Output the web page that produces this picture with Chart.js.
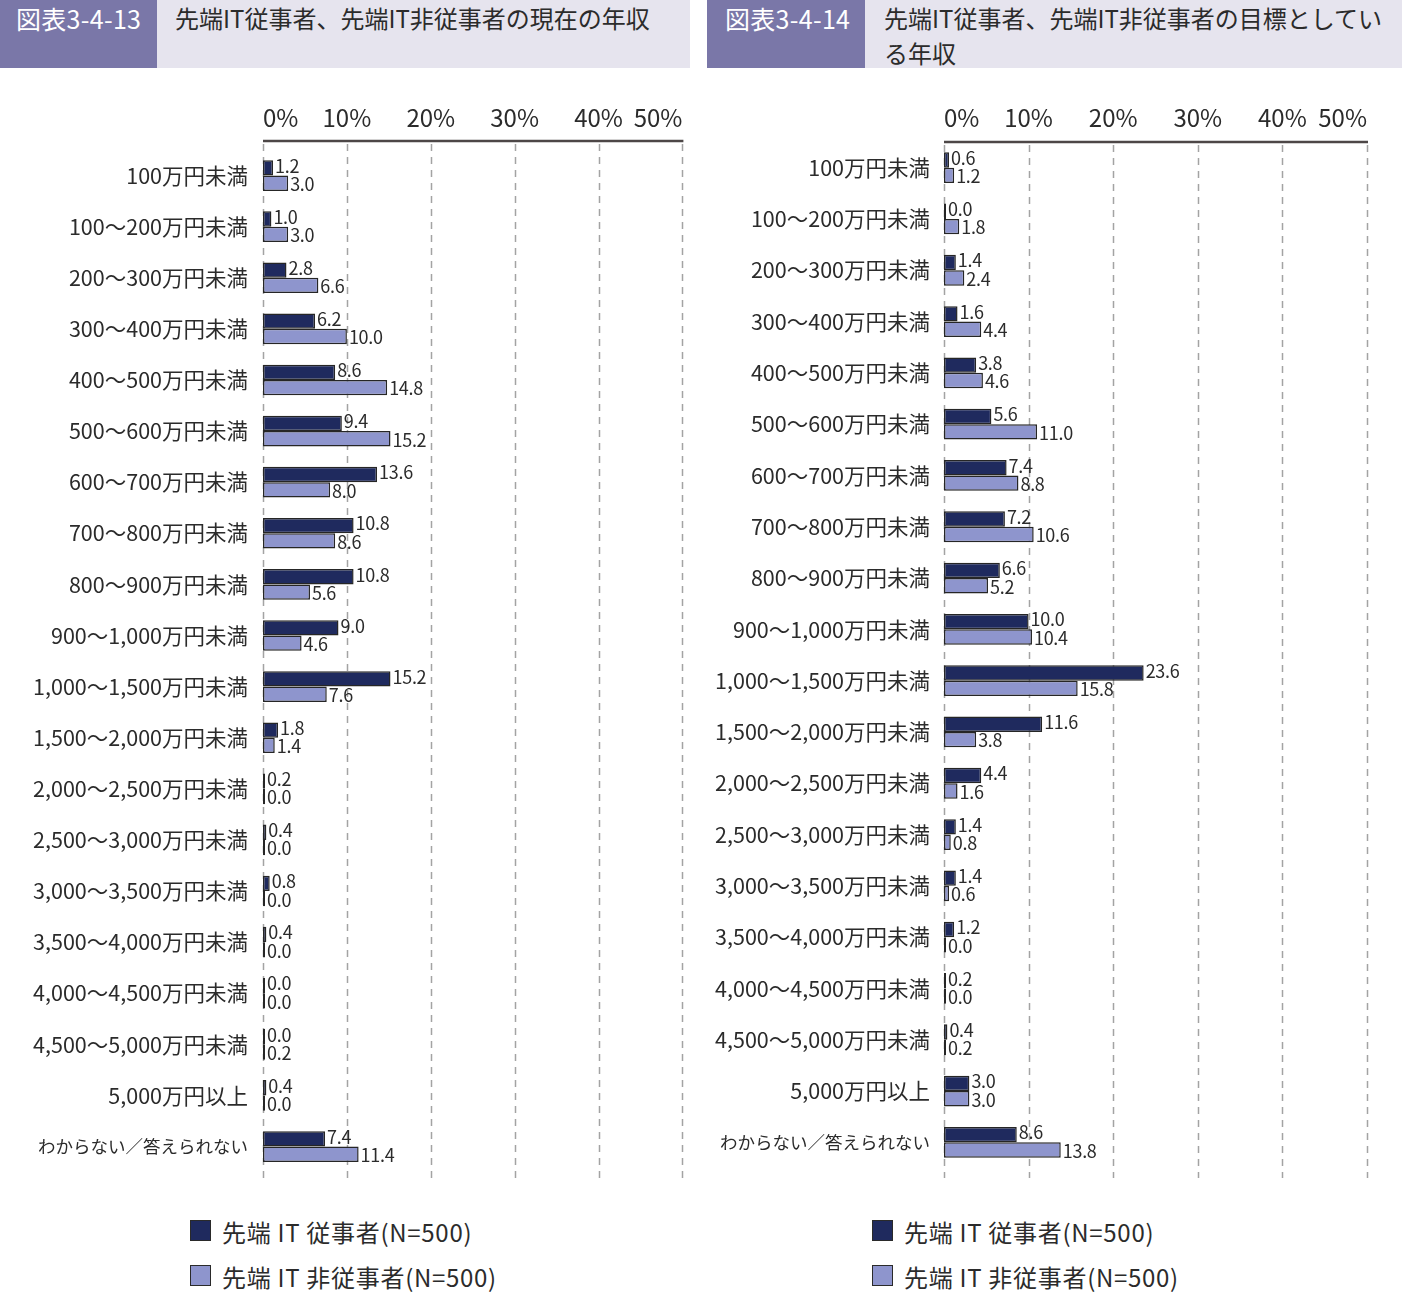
<!DOCTYPE html>
<html lang="ja">
<head>
<meta charset="utf-8">
<script src="https://cdn.jsdelivr.net/npm/chart.js@4.4.1/dist/chart.umd.min.js"></script>
<style>
  body { margin: 0; background: #fff; font-family: 'Noto Sans CJK JP', 'Noto Sans', sans-serif; color: #333; }
  #page { position: relative; width: 1408px; height: 1293px; overflow: hidden; }
  .hdr { position: absolute; top: 0; height: 68px; background: #e6e4ee; }
  .hdr .num { position: absolute; left: 0; top: 0; height: 68px; background: #7a77a8; color: #fff; font-size: 25px; line-height: 36px; padding-left: 16px; box-sizing: border-box; letter-spacing: 0.3px; }
  .hdr .ttl { position: absolute; top: 0; font-size: 24px; line-height: 35px; color: #2b2b2b; }
  canvas { position: absolute; top: 70px; }
  .lgd { position: absolute; font-size: 24px; color: #2b2b2b; }
  .lgd div { position: relative; height: 45px; line-height: 24px; padding-left: 32px; letter-spacing: 0.7px; }
  .lgd span { position: absolute; left: 0; top: 0; width: 19px; height: 19px; border: 1.5px solid #2a2a2a; }
</style>
</head>
<body>
<div id="page">
  <div class="hdr" style="left:0;width:690px;">
    <div class="num" style="width:157px;">図表3-4-13</div>
    <div class="ttl" style="left:175px;">先端IT従事者、先端IT非従事者の現在の年収</div>
  </div>
  <div class="hdr" style="left:707px;width:695px;">
    <div class="num" style="width:158px;padding-left:18px;">図表3-4-14</div>
    <div class="ttl" style="left:177px;">先端IT従事者、先端IT非従事者の目標としてい<br>る年収</div>
  </div>
  <canvas id="left" width="700" height="1130" style="left:0px;"></canvas>
  <canvas id="right" width="708" height="1130" style="left:700px;"></canvas>
  <div class="lgd" id="lgdLeft" style="left:190px;top:1220px;"></div>
  <div class="lgd" id="lgdRight" style="left:872px;top:1220px;"></div>
</div>
<script>
const categories = [
  "100万円未満", "100～200万円未満", "200～300万円未満", "300～400万円未満",
  "400～500万円未満", "500～600万円未満", "600～700万円未満", "700～800万円未満",
  "800～900万円未満", "900～1,000万円未満", "1,000～1,500万円未満", "1,500～2,000万円未満",
  "2,000～2,500万円未満", "2,500～3,000万円未満", "3,000～3,500万円未満", "3,500～4,000万円未満",
  "4,000～4,500万円未満", "4,500～5,000万円未満", "5,000万円以上", "わからない／答えられない"
];
const seriesNames = ["先端 IT 従事者(N=500)", "先端 IT 非従事者(N=500)"];
const seriesColors = ["#1f2a5e", "#8e95cd"];

// 図表3-4-13 現在の年収
const currentIT = [1.2, 1.0, 2.8, 6.2, 8.6, 9.4, 13.6, 10.8, 10.8, 9.0, 15.2, 1.8, 0.2, 0.4, 0.8, 0.4, 0.0, 0.0, 0.4, 7.4];
const currentNonIT = [3.0, 3.0, 6.6, 10.0, 14.8, 15.2, 8.0, 8.6, 5.6, 4.6, 7.6, 1.4, 0.0, 0.0, 0.0, 0.0, 0.0, 0.2, 0.0, 11.4];

// 図表3-4-14 目標としている年収
const targetIT = [0.6, 0.0, 1.4, 1.6, 3.8, 5.6, 7.4, 7.2, 6.6, 10.0, 23.6, 11.6, 4.4, 1.4, 1.4, 1.2, 0.2, 0.4, 3.0, 8.6];
const targetNonIT = [1.2, 1.8, 2.4, 4.4, 4.6, 11.0, 8.8, 10.6, 5.2, 10.4, 15.8, 3.8, 1.6, 0.8, 0.6, 0.0, 0.0, 0.2, 3.0, 13.8];

const xTicks = [0, 10, 20, 30, 40, 50];
const FONT = "'Noto Sans CJK JP', 'Noto Sans', sans-serif";

// dashed grid + top axis line, drawn from the x scale
const gridPlugin = {
  id: 'dashGrid',
  beforeDatasetsDraw(chart, args, opts) {
    const { ctx, chartArea, scales: { x } } = chart;
    const axisY = chartArea.top - opts.axisGap;
    ctx.save();
    ctx.strokeStyle = '#a3a3a3';
    ctx.lineWidth = 1.5;
    ctx.setLineDash([7, 6]);
    xTicks.forEach(v => {
      const px = Math.round(x.getPixelForValue(v)) + 0.5;
      ctx.beginPath();
      ctx.moveTo(px, axisY + 3);
      ctx.lineTo(px, chartArea.bottom + opts.extra);
      ctx.stroke();
    });
    ctx.setLineDash([]);
    ctx.strokeStyle = '#4d4747';
    ctx.lineWidth = 2.5;
    ctx.beginPath();
    ctx.moveTo(x.getPixelForValue(0), axisY);
    ctx.lineTo(x.getPixelForValue(50) + 1, axisY);
    ctx.stroke();
    ctx.restore();
  }
};

const valueLabels = {
  id: 'valueLabels',
  afterDatasetsDraw(chart) {
    const { ctx } = chart;
    ctx.save();
    ctx.font = '18px ' + FONT;
    ctx.fillStyle = '#2b2b2b';
    ctx.textAlign = 'left';
    ctx.textBaseline = 'middle';
    if ('letterSpacing' in ctx) ctx.letterSpacing = '-0.3px';
    chart.data.datasets.forEach((ds, i) => {
      chart.getDatasetMeta(i).data.forEach((bar, j) => {
        ctx.fillText(ds.data[j].toFixed(1), bar.x + 2, bar.y + (i === 0 ? -2 : 1));
      });
    });
    ctx.restore();
  }
};

function makeChart(id, dataA, dataB, cfg) {
  return new Chart(document.getElementById(id), {
    type: 'bar',
    data: {
      labels: categories,
      datasets: [dataA, dataB].map((d, i) => ({
        label: seriesNames[i],
        data: d,
        backgroundColor: seriesColors[i],
        borderColor: '#262626',
        borderWidth: 1.5,
        borderSkipped: false,
        minBarLength: 2,
        barPercentage: 1.0,
        categoryPercentage: 0.6
      }))
    },
    options: {
      indexAxis: 'y',
      responsive: false,
      animation: false,
      devicePixelRatio: 1,
      layout: { padding: { top: 0, bottom: cfg.padBottom, right: cfg.padRight, left: 0 } },
      plugins: {
        legend: { display: false },
        tooltip: { enabled: false },
        dashGrid: { axisGap: cfg.axisGap, extra: cfg.extra }
      },
      scales: {
        x: {
          position: 'top',
          min: 0,
          max: 50,
          afterBuildTicks: s => { s.ticks = xTicks.map(v => ({ value: v })); },
          afterFit: s => { s.height = cfg.xHeight; },
          grid: { display: false, drawTicks: false },
          border: { display: false },
          ticks: {
            align: 'inner',
            padding: cfg.xPad,
            color: '#2b2b2b',
            font: { family: FONT, size: 24 },
            callback: v => v + '%'
          }
        },
        y: {
          afterFit: s => { s.width = cfg.yWidth; },
          grid: { display: false, drawTicks: false },
          border: { display: false },
          ticks: {
            padding: cfg.yPad,
            color: '#2b2b2b',
            // the long last label is set smaller, as in the source
            font: c => ({ family: FONT, size: c.index === categories.length - 1 ? 17.5 : 21.5 })
          }
        }
      }
    },
    plugins: [gridPlugin, valueLabels]
  });
}

makeChart('left', currentIT, currentNonIT,
  { xHeight: 80, padBottom: 24, padRight: 13, yWidth: 263, xPad: 17.6, yPad: 15, axisGap: 9, extra: 9 });
makeChart('right', targetIT, targetNonIT,
  { xHeight: 72, padBottom: 32, padRight: 41, yWidth: 244, xPad: 10, yPad: 14, axisGap: 0, extra: 10 });

function buildLegend(id) {
  const el = document.getElementById(id);
  seriesNames.forEach((name, i) => {
    const row = document.createElement('div');
    const sw = document.createElement('span');
    sw.style.background = seriesColors[i];
    row.appendChild(sw);
    row.appendChild(document.createTextNode(name));
    el.appendChild(row);
  });
}
buildLegend('lgdLeft');
buildLegend('lgdRight');
</script>
</body>
</html>
